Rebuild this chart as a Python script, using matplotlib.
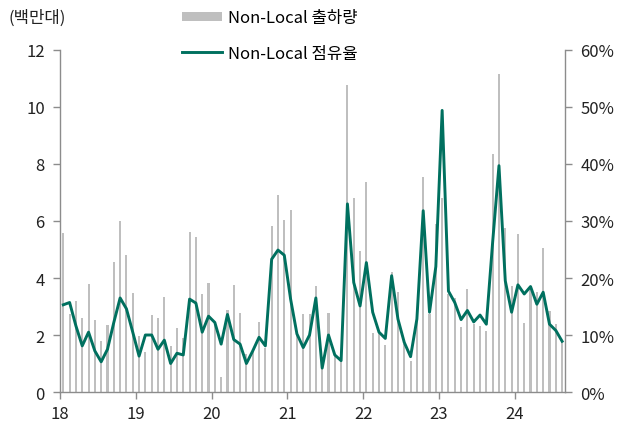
import matplotlib
matplotlib.use('Agg')
import matplotlib.pyplot as plt
from matplotlib.patches import Patch
from matplotlib.lines import Line2D
from matplotlib.ticker import FuncFormatter
import numpy as np

plt.rcParams['font.family'] = ['Noto Sans CJK KR', 'DejaVu Sans']

# monthly, Jan 2018 - Aug 2024
shipments = [
    5.57, 2.73, 3.18, 2.60, 3.78, 2.51, 1.79, 2.34, 4.55, 5.99, 4.81, 3.49,   # 2018
    1.96, 1.40, 2.69, 2.60, 3.33, 1.61, 2.25, 1.91, 5.61, 5.43, 3.43, 3.81,   # 2019
    2.45, 0.52, 2.88, 3.75, 2.78, 1.33, 1.45, 2.47, 1.55, 5.84, 6.91, 6.05,   # 2020
    6.40, 2.00, 2.73, 2.73, 3.72, 0.85, 2.78, 1.30, 1.10, 10.77, 6.81, 4.95,  # 2021
    7.37, 2.08, 2.15, 1.65, 4.20, 3.50, 1.70, 1.10, 2.50, 7.55, 2.75, 5.89,   # 2022
    6.80, 3.45, 3.30, 2.29, 3.61, 2.40, 2.33, 2.14, 8.35, 11.16, 5.75, 3.72,  # 2023
    5.54, 2.42, 3.60, 3.50, 5.05, 2.85, 2.38, 1.75,                           # 2024
]
share = [
    15.3, 15.7, 11.6, 8.1, 10.5, 7.2, 5.3, 7.5, 12.2, 16.5, 14.6, 10.5,
    6.3, 10.0, 10.0, 7.5, 9.1, 5.0, 6.8, 6.5, 16.3, 15.6, 10.5, 13.3,
    12.2, 8.4, 13.6, 9.2, 8.4, 5.0, 7.2, 9.6, 8.1, 23.3, 24.9, 24.0,
    16.3, 10.2, 7.8, 10.0, 16.5, 4.2, 10.0, 6.5, 5.5, 33.0, 19.2, 15.1,
    22.7, 14.0, 10.5, 9.4, 20.4, 12.8, 8.7, 6.2, 12.8, 31.8, 14.0, 22.0,
    49.4, 17.7, 15.7, 12.7, 14.3, 12.3, 13.5, 11.9, 26.3, 39.7, 19.5, 14.0,
    18.8, 17.2, 18.5, 15.4, 17.5, 11.9, 10.8, 8.9,
]
year_labels = ['18', '19', '20', '21', '22', '23', '24']

bar_color = '#BFBFBF'
line_color = '#00705F'
axis_color = '#8C8C8C'

fig = plt.figure(figsize=(6.33, 4.27), dpi=100)
ax = fig.add_axes([0.095, 0.0796, 0.798, 0.801])
ax2 = ax.twinx()

x = np.arange(len(shipments))
ax.bar(x, shipments, width=0.33, color=bar_color, zorder=1)
ax2.plot(x, share, color=line_color, lw=2.1, zorder=3)

ax.set_xlim(-0.5, len(shipments) - 0.5)
ax.set_ylim(0, 12)
ax.set_yticks(range(0, 13, 2))
ax2.set_ylim(0, 60)
ax2.set_yticks(range(0, 61, 10))
ax2.yaxis.set_major_formatter(FuncFormatter(lambda v, p: f'{int(v)}%'))

ax.set_xticks([12 * k - 0.5 for k in range(len(year_labels))])
ax.set_xticklabels(year_labels)

for a in (ax, ax2):
    a.spines['top'].set_visible(False)
    for s in ('left', 'right', 'bottom'):
        a.spines[s].set_color(axis_color)
        a.spines[s].set_linewidth(1)
    a.tick_params(colors=axis_color, labelcolor='#222222', labelsize=12, length=5, width=1)
ax.spines['right'].set_visible(False)
ax2.spines['left'].set_visible(False)
ax2.spines['bottom'].set_visible(False)
ax.tick_params(axis='x', pad=4)
ax.tick_params(axis='y', pad=6)
ax2.tick_params(axis='y', pad=6)

fig.text(0.013, 0.957, '(백만대)', fontsize=12, color='#222222', va='center')

handles = [Patch(facecolor=bar_color, edgecolor='none'),
           Line2D([0], [0], color=line_color, lw=2.1)]
fig.legend(handles, ['Non-Local 출하량', 'Non-Local 점유율'],
           loc='upper left', bbox_to_anchor=(0.264, 1.011), frameon=False,
           fontsize=12, handlelength=2.4, handleheight=0.5, handletextpad=0.35,
           labelspacing=1.1)

fig.savefig('out.png', dpi=100)
